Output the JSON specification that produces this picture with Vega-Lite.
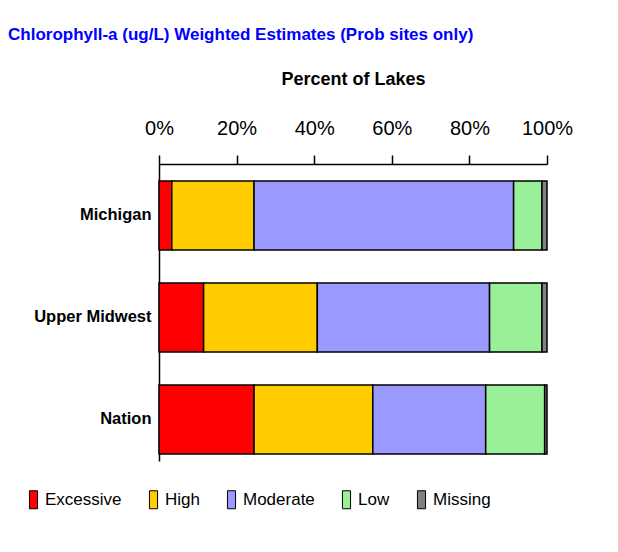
{
  "$schema": "https://vega.github.io/schema/vega-lite/v6.json",
  "width": 388,
  "height": 297,
  "autosize": {"type": "none"},
  "padding": {"left": 159, "top": 164, "right": 71, "bottom": 91},
  "background": "white",
  "title": {
    "text": "Chlorophyll-a (ug/L)  Weighted Estimates (Prob sites only)",
    "anchor": "start",
    "frame": "group",
    "dx": -151,
    "offset": 26,
    "color": "#0000FF",
    "font": "Liberation Sans",
    "fontSize": 17,
    "fontWeight": "bold"
  },
  "data": {
    "values": [
      {"region": "Michigan", "category": "Excessive", "percent": 3.3},
      {"region": "Michigan", "category": "High", "percent": 21.2},
      {"region": "Michigan", "category": "Moderate", "percent": 66.9},
      {"region": "Michigan", "category": "Low", "percent": 7.3},
      {"region": "Michigan", "category": "Missing", "percent": 1.3},
      {"region": "Upper Midwest", "category": "Excessive", "percent": 11.5},
      {"region": "Upper Midwest", "category": "High", "percent": 29.3},
      {"region": "Upper Midwest", "category": "Moderate", "percent": 44.4},
      {"region": "Upper Midwest", "category": "Low", "percent": 13.5},
      {"region": "Upper Midwest", "category": "Missing", "percent": 1.3},
      {"region": "Nation", "category": "Excessive", "percent": 24.5},
      {"region": "Nation", "category": "High", "percent": 30.6},
      {"region": "Nation", "category": "Moderate", "percent": 29.1},
      {"region": "Nation", "category": "Low", "percent": 15.2},
      {"region": "Nation", "category": "Missing", "percent": 0.6}
    ]
  },
  "transform": [
    {"calculate": "indexof(['Excessive','High','Moderate','Low','Missing'], datum.category)", "as": "stackOrder"}
  ],
  "mark": {"type": "bar", "stroke": "black", "strokeWidth": 1.5},
  "encoding": {
    "y": {
      "field": "region",
      "type": "nominal",
      "sort": ["Michigan", "Upper Midwest", "Nation"],
      "scale": {"paddingInner": 0.3235, "paddingOuter": 0.1176, "align": 0.708},
      "axis": {
        "title": null,
        "ticks": false,
        "domainColor": "black",
        "domainWidth": 1.5,
        "labelFont": "Liberation Sans",
        "labelFontSize": 16.5,
        "labelFontWeight": "bold",
        "labelColor": "black",
        "labelPadding": 8
      }
    },
    "x": {
      "field": "percent",
      "type": "quantitative",
      "stack": "zero",
      "scale": {"domain": [0, 100], "nice": false},
      "axis": {
        "orient": "top",
        "values": [0, 20, 40, 60, 80, 100],
        "labelExpr": "datum.value + '%'",
        "grid": false,
        "tickSize": 9,
        "tickColor": "black",
        "tickWidth": 1.5,
        "domainColor": "black",
        "domainWidth": 1.5,
        "labelFont": "Liberation Sans",
        "labelFontSize": 20,
        "labelColor": "black",
        "labelPadding": 17,
        "labelFlush": false,
        "title": "Percent of Lakes",
        "titleFont": "Liberation Sans",
        "titleFontSize": 18,
        "titleFontWeight": "bold",
        "titleColor": "black",
        "titlePadding": 30
      }
    },
    "order": {"field": "stackOrder", "type": "quantitative"},
    "color": {
      "field": "category",
      "type": "nominal",
      "sort": ["Excessive", "High", "Moderate", "Low", "Missing"],
      "scale": {
        "domain": ["Excessive", "High", "Moderate", "Low", "Missing"],
        "range": ["#FF0000", "#FFCC00", "#9999FF", "#99F099", "#808080"]
      },
      "legend": {
        "title": null,
        "orient": "none",
        "legendX": -135,
        "legendY": 326,
        "direction": "horizontal",
        "columns": 5,
        "columnPadding": 22,
        "symbolType": "M-0.45,-1H0.45V1H-0.45Z",
        "symbolSize": 324,
        "symbolStrokeColor": "black",
        "symbolStrokeWidth": 1,
        "symbolOpacity": 1,
        "labelFont": "Liberation Sans",
        "labelFontSize": 17,
        "labelColor": "black",
        "labelOffset": 2
      }
    }
  },
  "config": {"view": {"stroke": null}}
}
